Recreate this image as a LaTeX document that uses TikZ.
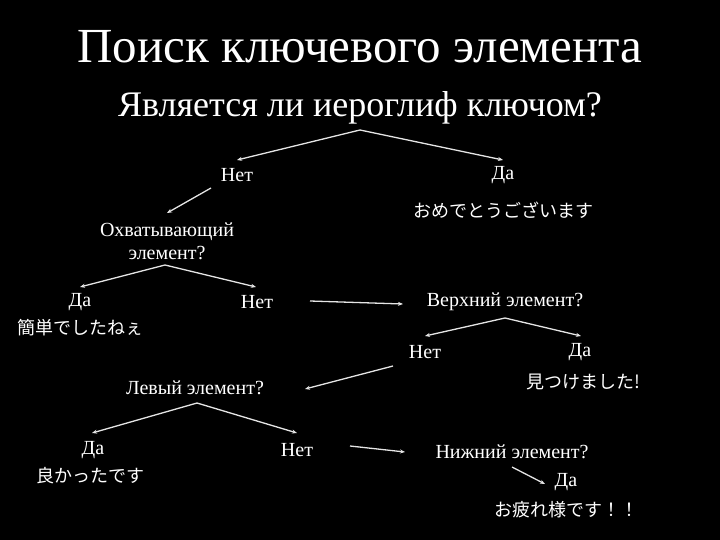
\documentclass[tikz,border=0pt]{standalone}
\usepackage{fontspec}
\setmainfont{Liberation Serif}
\newfontfamily\jp{Noto Sans CJK JP}
\usetikzlibrary{arrows.meta}
\begin{document}
\begin{tikzpicture}[x=1pt,y=-1pt,
  lbl/.style={text=white,font=\fontsize{20}{22}\selectfont,inner sep=1pt},
  jlbl/.style={text=white,font=\jp\fontsize{18}{20}\selectfont,inner sep=1pt},
  arr/.style={draw=white!90!black,line width=1.3pt,-{Stealth[length=5pt,width=4pt]}}]
\fill[black] (0,0) rectangle (720,540);
\useasboundingbox (0,0) rectangle (720,540);
\node[text=white,font=\fontsize{49}{52}\selectfont] (title) at (360,47) {Поиск ключевого элемента};
\node[text=white,font=\fontsize{36}{40}\selectfont] (q) at (360,108) {Является ли иероглиф ключом?};
\coordinate (qb) at (360,130);
\node[lbl] (n1) at (237,175) {Нет};
\node[lbl] (d1) at (503,175) {Да};
\node[jlbl] (j1) at (503,210) {おめでとうございます};
\node[lbl,align=center,font=\fontsize{20}{23}\selectfont] (ox) at (167,241) {Охватывающий\\элемент?};
\coordinate (oxb) at (165,265);
\node[lbl] (d2) at (80,302) {Да};
\node[jlbl] (j2) at (80,328) {簡単でしたねぇ};
\node[lbl] (n2) at (257,302) {Нет};
\node[lbl] (up) at (505,302) {Верхний элемент?};
\coordinate (upb) at (505,318);
\node[lbl] (n3) at (425,352) {Нет};
\node[lbl] (d3) at (580,352) {Да};
\node[jlbl] (j3) at (583,382) {見つけました!};
\node[lbl] (lv) at (195,388) {Левый элемент?};
\coordinate (lvb) at (197,403);
\node[lbl] (d4) at (93,450) {Да};
\node[jlbl] (j4) at (90,476) {良かったです};
\node[lbl] (n4) at (297,450) {Нет};
\node[lbl] (lo) at (512,452) {Нижний элемент?};
\coordinate (lob) at (512,467);
\node[lbl] (d5) at (566,482) {Да};
\node[jlbl] (j5) at (566,510) {お疲れ様です！！};
\coordinate (c1) at (237,160); \coordinate (c2) at (503,160);
\draw[arr] (qb) -- (c1);
\draw[arr] (qb) -- (c2);
\draw[arr] (211,188) -- (167,213);
\draw[arr] (oxb) -- (80,287);
\draw[arr] (oxb) -- (256,287);
\draw[arr] (310,301) -- (403,304);
\draw[arr] (upb) -- (425,336);
\draw[arr] (upb) -- (581,336);
\draw[arr] (393,366) -- (305,389);
\draw[arr] (lvb) -- (92,433);
\draw[arr] (lvb) -- (297,433);
\draw[arr] (350,446) -- (405,452);
\draw[arr] (lob) -- (545,484);
\end{tikzpicture}
\end{document}
